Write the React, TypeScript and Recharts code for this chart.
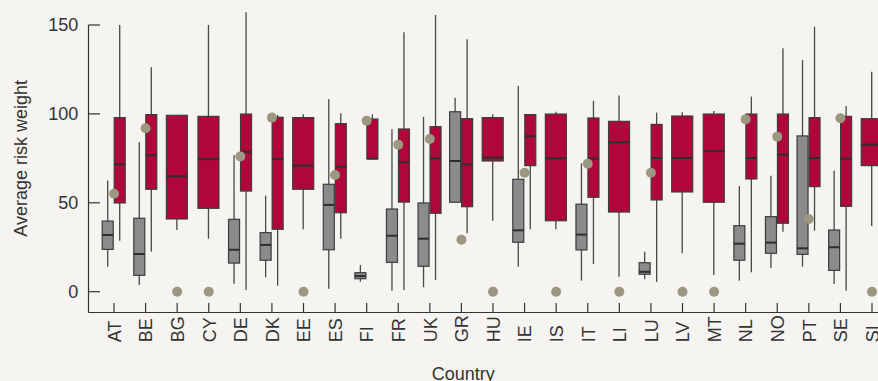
import React from 'react';
import { ComposedChart, Bar, Line, XAxis, YAxis, ReferenceLine, Label } from 'recharts';

const countries = ['AT','BE','BG','CY','DE','DK','EE','ES','FI','FR','UK','GR','HU','IE','IS','IT','LI','LU','LV','MT','NL','NO','PT','SE','SI'];

const greyLow  = [14.1, 3.8, null, null, 4.5, 8.1, null, 1.7, 5.6, 0.6, 2.5, 50.3, null, 14.1, null, 6.2, null, 7.0, null, null, 6.2, 13.3, 14.1, 4.3, null];
const greyQ1   = [23.8, 9.2, null, null, 16.1, 17.7, null, 23.6, 7.3, 16.5, 14.3, 50.3, null, 27.8, null, 23.5, null, 9.8, null, null, 17.7, 21.6, 21.0, 12.0, null];
const greyMed  = [31.9, 21.2, null, null, 23.6, 26.3, null, 48.8, 8.8, 31.5, 29.8, 73.5, null, 34.5, null, 32.1, null, 11.2, null, null, 27.0, 27.6, 24.4, 25.0, null];
const greyQ3   = [39.7, 41.3, null, null, 40.7, 33.2, null, 60.4, 10.7, 46.5, 49.9, 101.2, null, 63.2, null, 49.2, null, 16.3, null, null, 37.1, 42.2, 87.6, 34.7, null];
const greyHigh = [62.6, 84.0, null, null, 76.7, 54.0, null, 108.4, 15.0, 91.3, 98.4, 109.1, null, 115.7, null, 72.2, null, 22.5, null, null, 59.4, 65.2, 130.3, 68.1, null];

const redLow  = [28.7, 22.5, 34.7, 29.8, 1.0, 3.4, 35.1, 29.8, 74.8, 1.0, 6.6, 32.8, 39.9, 35.1, 35.1, 15.6, 8.4, 5.5, 21.6, 9.4, 10.9, 33.7, 34.3, 0.6, 37.0];
const redQ1   = [49.9, 57.6, 40.9, 46.9, 56.6, 35.1, 57.6, 44.4, 74.8, 50.4, 44.1, 47.8, 73.5, 70.9, 39.9, 53.1, 44.8, 51.6, 56.1, 50.3, 63.4, 38.5, 59.1, 48.0, 70.9];
const redMed  = [71.6, 76.7, 64.9, 74.6, 78.6, 74.6, 70.9, 70.3, 74.8, 72.8, 75.0, 71.6, 75.4, 87.4, 75.0, 74.8, 84.0, 75.2, 75.2, 79.1, 75.2, 77.1, 75.2, 74.8, 82.7];
const redQ3   = [97.9, 99.6, 99.2, 98.6, 99.9, 98.1, 97.9, 94.5, 97.1, 91.5, 92.8, 97.3, 97.9, 99.6, 99.9, 97.7, 95.8, 94.1, 98.8, 99.9, 99.9, 99.9, 97.9, 98.6, 97.3];
const redHigh = [150.0, 126.2, 99.2, 150.0, 157.1, 99.4, 99.8, 100.3, 99.8, 145.9, 155.6, 142.0, 99.8, 99.8, 101.2, 107.4, 110.4, 100.7, 100.9, 101.6, 109.7, 136.9, 149.0, 104.4, 123.7];

const dotValues = [55.1, 91.9, 0, 0, 76.1, 97.9, 0, 65.6, 96.2, 82.7, 85.9, 29.2, 0, 66.9, 0, 72.0, 0, 66.9, 0, 0, 96.9, 87.2, 40.9, 97.5, 0];

const yTicks = [0, 50, 100, 150];
const xTicks = countries.map((_, i) => i + 1);

const X_DOMAIN: [number, number] = [0.1926, 26.52];
const Y_DOMAIN: [number, number] = [-11.7, 160];

const data = countries.map((c, i) => ({
  idx: i + 1,
  name: c,
  gLow: greyLow[i], gQ1: greyQ1[i], gMed: greyMed[i], gQ3: greyQ3[i], gHigh: greyHigh[i],
  rLow: redLow[i], rQ1: redQ1[i], rMed: redMed[i], rQ3: redQ3[i], rHigh: redHigh[i],
  dot: dotValues[i],
}));

const FONT = '"Liberation Sans", Arial, Helvetica, sans-serif';
const TEXT = '#333333';
const AXIS = '#333333';
const RED = '#b0063a';
const GREY = '#8b8b8b';
const OUTLINE = '#3d3d3d';
const DOT = '#9c9781';
const BG = '#f5f4f0';
const BAR_SIZE = 11;
const BAR_GAP = 1;

const makeShape = (kind: 'g' | 'r') => (props: any) => {
  const { x, y, width, height, payload } = props;
  if (!payload) return <g />;
  const s = kind === 'g'
    ? { lo: payload.gLow, q1: payload.gQ1, med: payload.gMed, q3: payload.gQ3, hi: payload.gHigh }
    : { lo: payload.rLow, q1: payload.rQ1, med: payload.rMed, q3: payload.rQ3, hi: payload.rHigh };
  if (s.lo == null || s.hi == null || !isFinite(y) || !isFinite(height)) return <g />;
  const top = Math.min(y, y + height);
  const h = Math.abs(height);
  const span = s.hi - s.lo;
  const py = (v: number) => top + ((s.hi - v) / span) * h;
  let bx = x;
  let bw = width;
  if (kind === 'r' && payload.gLow == null) {
    const c = x - BAR_GAP / 2;
    bw = width * 2 - 1;
    bx = c - bw / 2;
  }
  const cx = bx + bw / 2;
  return (
    <g>
      <line x1={cx} x2={cx} y1={py(s.hi)} y2={py(s.lo)} stroke="#474747" strokeWidth={1.3} />
      <rect x={bx} y={py(s.q3)} width={bw} height={Math.max(py(s.q1) - py(s.q3), 0.5)}
        fill={kind === 'g' ? GREY : RED} stroke={OUTLINE} strokeWidth={1.2} />
      <line x1={bx} x2={bx + bw} y1={py(s.med)} y2={py(s.med)} stroke="#2e2e2e" strokeWidth={2} />
    </g>
  );
};

const greyShape = makeShape('g');
const redShape = makeShape('r');

const XTick = (props: any) => {
  const { x, y, payload } = props;
  const label = countries[Math.round(payload.value) - 1] ?? '';
  return (
    <g>
      <line x1={x} x2={x} y1={y} y2={y - 9.5} stroke={AXIS} strokeWidth={1.2} />
      <text transform={`translate(${x + 6.8},${y + 29.8}) rotate(-90)`} textAnchor="start"
        fontSize={18} fontFamily={FONT} fill={TEXT}>{label}</text>
    </g>
  );
};

const YTick = (props: any) => {
  const { x, y, payload } = props;
  return (
    <g>
      <line x1={x} x2={x + 11.5} y1={y} y2={y} stroke={AXIS} strokeWidth={1.2} />
      <text x={x - 10.2} y={y} dy="0.36em" textAnchor="end" fontSize={18} fontFamily={FONT} fill={TEXT}>
        {payload.value}
      </text>
    </g>
  );
};

const YTitle = () => (
  <text transform="translate(27.3,158.3) rotate(-90)" textAnchor="middle" fontSize={18} fontFamily={FONT} fill={TEXT}>
    Average risk weight
  </text>
);

const XTitle = () => (
  <text x={463.3} y={379.5} textAnchor="middle" fontSize={18} fontFamily={FONT} fill={TEXT}>
    Country
  </text>
);

export default function App() {
  return (
    <div style={{ position: 'absolute', left: 0, top: 0, width: 878, height: 381, overflow: 'hidden', background: BG, fontFamily: FONT }}>
      <ComposedChart width={920} height={381} data={data}
        margin={{ top: 7.2, right: 0, bottom: 0, left: 8.5 }}
        barSize={BAR_SIZE} barGap={BAR_GAP}>
        <XAxis type="number" dataKey="idx" domain={X_DOMAIN} ticks={xTicks} interval={0}
          height={68.5} tickSize={0} tickMargin={0} tickLine={false}
          axisLine={{ stroke: AXIS, strokeWidth: 1.2 }} tick={<XTick />}
          label={<Label content={<XTitle />} />} />
        <YAxis type="number" domain={Y_DOMAIN} ticks={yTicks} width={80}
          tickSize={0} tickMargin={0} tickLine={false} axisLine={false} tick={<YTick />}
          label={<Label content={<YTitle />} />} />
        <ReferenceLine segment={[{ x: X_DOMAIN[0], y: Y_DOMAIN[0] }, { x: X_DOMAIN[0], y: 150 }]}
          stroke={AXIS} strokeWidth={1.2} ifOverflow="visible" />
        <Bar dataKey={(d: any) => (d.gLow == null ? null : [d.gLow, d.gHigh])} shape={greyShape} isAnimationActive={false} />
        <Bar dataKey={(d: any) => [d.rLow, d.rHigh]} shape={redShape} isAnimationActive={false} />
        <Line dataKey="dot" stroke="none" isAnimationActive={false} activeDot={false}
          dot={{ r: 5, fill: DOT, stroke: 'none', strokeWidth: 0, fillOpacity: 1 }} />
      </ComposedChart>
    </div>
  );
}
